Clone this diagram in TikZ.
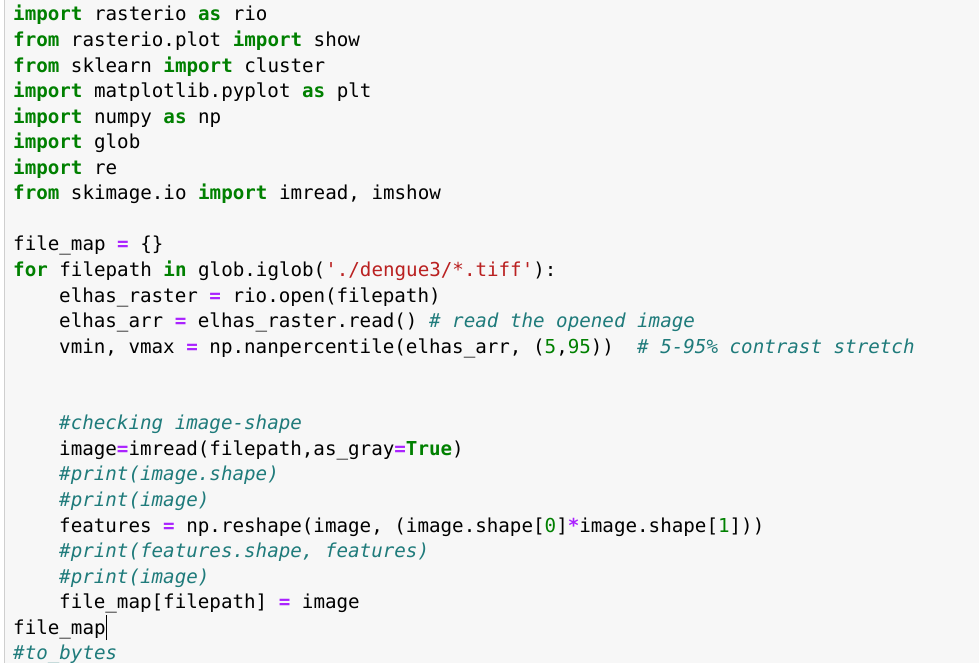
\documentclass[tikz,border=0pt]{standalone}
\usepackage{fontspec}
\setmonofont{DejaVu Sans Mono}
\usepackage{tikz}

\definecolor{kwgreen}{HTML}{008000}
\definecolor{oppurple}{HTML}{AA22FF}
\definecolor{strred}{HTML}{BA2121}
\definecolor{cmteal}{HTML}{1F7B7B}
\definecolor{cellbg}{HTML}{F7F7F7}
\definecolor{cellborder}{HTML}{CFCFCF}

\newcommand{\kw}[1]{\textcolor{kwgreen}{\bfseries #1}}
\newcommand{\op}[1]{\textcolor{oppurple}{\bfseries #1}}
\newcommand{\strlit}[1]{\textcolor{strred}{#1}}
\newcommand{\numlit}[1]{\textcolor{kwgreen}{#1}}
\newcommand{\cmt}[1]{\textcolor{cmteal}{\itshape #1}}

\begin{document}
\begin{tikzpicture}[x=1pt,y=-1pt]
	\tikzset{code/.style={anchor=base west,inner sep=0pt,text=black,
		font=\ttfamily\fontsize{19.2}{25}\selectfont}}
	\def\pitch{25.55}
	\def\base{21}
	\def\colA{13}
	\def\colB{59}

	%% cell background
	\useasboundingbox (0,0) rectangle (979,663);
	\fill[white] (0,0) rectangle (979,663);
	\fill[cellbg] (4.5,0) rectangle (979,663);
	\draw[cellborder,line width=1pt] (4.5,0) -- (4.5,663);

	%% imports
	\node[code] (l1) at (\colA,{\base+0*\pitch}) {\kw{import} rasterio \kw{as} rio};
	\node[code] (l2) at (\colA,{\base+1*\pitch}) {\kw{from} rasterio.plot \kw{import} show};
	\node[code] (l3) at (\colA,{\base+2*\pitch}) {\kw{from} sklearn \kw{import} cluster};
	\node[code] (l4) at (\colA,{\base+3*\pitch}) {\kw{import} matplotlib.pyplot \kw{as} plt};
	\node[code] (l5) at (\colA,{\base+4*\pitch}) {\kw{import} numpy \kw{as} np};
	\node[code] (l6) at (\colA,{\base+5*\pitch}) {\kw{import} glob};
	\node[code] (l7) at (\colA,{\base+6*\pitch}) {\kw{import} re};
	\node[code] (l8) at (\colA,{\base+7*\pitch}) {\kw{from} skimage.io \kw{import} imread, imshow};

	%% loop
	\node[code] (l10) at (\colA,{\base+9*\pitch}) {file\_map \op{=} \{\}};
	\node[code] (l11) at (\colA,{\base+10*\pitch}) {\kw{for} filepath \kw{in} glob.iglob(\strlit{\textquotesingle./dengue3/*.tiff\textquotesingle}):};
	\node[code] (l12) at (\colB,{\base+11*\pitch}) {elhas\_raster \op{=} rio.open(filepath)};
	\node[code] (l13) at (\colB,{\base+12*\pitch}) {elhas\_arr \op{=} elhas\_raster.read() \cmt{\# read the opened image}};
	\node[code] (l14) at (\colB,{\base+13*\pitch}) {vmin, vmax \op{=} np.nanpercentile(elhas\_arr, (\numlit{5},\numlit{95}))~ \cmt{\# 5-95\% contrast stretch}};

	\node[code] (l17) at (\colB,{\base+16*\pitch}) {\cmt{\#checking image-shape}};
	\node[code] (l18) at (\colB,{\base+17*\pitch}) {image\op{=}imread(filepath,as\_gray\op{=}\kw{True})};
	\node[code] (l19) at (\colB,{\base+18*\pitch}) {\cmt{\#print(image.shape)}};
	\node[code] (l20) at (\colB,{\base+19*\pitch}) {\cmt{\#print(image)}};
	\node[code] (l21) at (\colB,{\base+20*\pitch}) {features \op{=} np.reshape(image, (image.shape[\numlit{0}]\op{*}image.shape[\numlit{1}]))};
	\node[code] (l22) at (\colB,{\base+21*\pitch}) {\cmt{\#print(features.shape, features)}};
	\node[code] (l23) at (\colB,{\base+22*\pitch}) {\cmt{\#print(image)}};
	\node[code] (l24) at (\colB,{\base+23*\pitch}) {file\_map[filepath] \op{=} image};
	\node[code] (l25) at (\colA,{\base+24*\pitch}) {file\_map};
	\node[code] (l26) at (\colA,{\base+25*\pitch}) {\cmt{\#to\_bytes}};

	%% text cursor
	\coordinate (cur) at ([xshift=1pt]l25.base east);
	\draw[black,line width=1.2pt] ([yshift=-6pt]cur) -- ([yshift=19pt]cur);
\end{tikzpicture}
\end{document}
